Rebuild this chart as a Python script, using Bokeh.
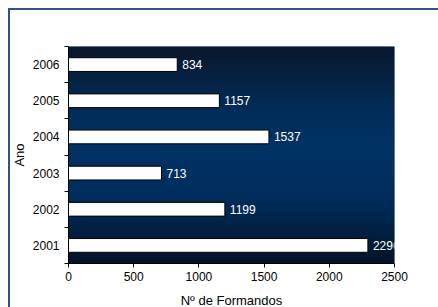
import numpy as np
from bokeh.plotting import figure
from bokeh.models import ColumnDataSource, FixedTicker
from bokeh.core.properties import value
from bokeh.embed import file_html
from bokeh.resources import INLINE

years = ["2001", "2002", "2003", "2004", "2005", "2006"]
formandos = [2296, 1199, 713, 1537, 1157, 834]
labels = ["2296", "1199", "713", "1537", "1157", "834"]
x_ticks = [0, 500, 1000, 1500, 2000, 2500]

ypos = list(range(1, len(years) + 1))
src = ColumnDataSource(dict(y=ypos, v=formandos, lab=labels))

p = figure(frame_width=326, frame_height=217, output_backend="svg", toolbar_location=None,
           x_range=(0, 2500), y_range=(0.5, len(years) + 0.5),
           min_border_left=68, min_border_top=46, min_border_right=44, min_border_bottom=44)
bc = "#2b5489"
p.styles = {"background": f"linear-gradient({bc},{bc}) 8px 8px / 100% 2px no-repeat, "
                          f"linear-gradient({bc},{bc}) 8px 8px / 2px 100% no-repeat, white"}
p.background_fill_color = "#00305f"
p.border_fill_color = None
p.outline_line_color = None
p.grid.visible = False

# vertical gradient background
stops = [(0.0, (10, 24, 45)), (0.3, (2, 45, 90)), (0.45, (0, 51, 102)),
         (0.7, (0, 45, 92)), (1.0, (4, 20, 42))]
N = 200
img = np.zeros((N, 1), dtype=np.uint32)
view = img.view(dtype=np.uint8).reshape((N, 1, 4))
for i in range(N):
    t = 1 - i / (N - 1)  # row 0 is bottom; t = distance from top
    for k in range(len(stops) - 1):
        if stops[k][0] <= t <= stops[k + 1][0]:
            a = (t - stops[k][0]) / (stops[k + 1][0] - stops[k][0])
            c = [int(stops[k][1][j] + a * (stops[k + 1][1][j] - stops[k][1][j])) for j in range(3)]
            break
    view[i, 0] = [c[0], c[1], c[2], 255]
p.image_rgba(image=[img], x=0, y=0.5, dw=2500, dh=len(years))

p.hbar(y="y", right="v", left=0, height=0.38, source=src,
       fill_color="white", line_color="black", line_width=1)
p.text(x="v", y="y", text="lab", source=src, x_offset=5, text_align="left",
       text_baseline="middle", text_color="white", text_font_size="12px",
       text_font=value("Liberation Sans"))

p.xaxis.ticker = FixedTicker(ticks=x_ticks)
p.yaxis.ticker = FixedTicker(ticks=ypos, minor_ticks=[y - 0.5 for y in ypos] + [len(years) + 0.5])
p.yaxis.major_label_overrides = {y: yr for y, yr in zip(ypos, years)}
p.yaxis.major_tick_out = 0
p.yaxis.major_tick_in = 0
p.yaxis.minor_tick_out = 4
p.yaxis.minor_tick_in = 0
p.yaxis.major_label_standoff = 5
p.xaxis.minor_tick_line_color = None
p.xaxis.major_tick_out = 4
p.xaxis.major_tick_in = 0
p.xaxis.major_label_standoff = 4

for ax in (p.xaxis, p.yaxis):
    ax.axis_line_color = "black"
    ax.major_tick_line_color = "black"
    ax.minor_tick_line_color = "black"
    ax.major_label_text_font = "Liberation Sans"
    ax.major_label_text_font_size = "12px"
    ax.major_label_text_color = "black"
    ax.axis_label_text_font = "Liberation Sans"
    ax.axis_label_text_font_size = "13px"
    ax.axis_label_text_font_style = "normal"
    ax.axis_label_text_color = "black"
p.xaxis.minor_tick_line_color = None
p.xaxis.axis_label = "Nº de Formandos"
p.yaxis.axis_label = "Ano"
p.xaxis.axis_label_standoff = 9
p.yaxis.axis_label_standoff = 3

open("out.html", "w").write(file_html(p, INLINE))
